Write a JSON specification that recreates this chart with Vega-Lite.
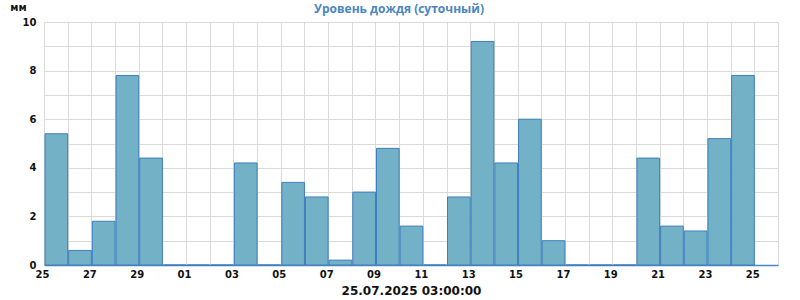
{
  "$schema": "https://vega.github.io/schema/vega-lite/v6.json",
  "width": 734,
  "height": 243,
  "autosize": {"type": "none"},
  "padding": {"left": 44, "top": 22, "right": 22, "bottom": 35},
  "background": "white",
  "config": {"view": {"stroke": null}},
  "title": {
    "text": "Уровень дождя (суточный)",
    "anchor": "middle",
    "font": "Open Sans",
    "fontSize": 12,
    "fontWeight": "bold",
    "color": "#4a86c1",
    "baseline": "middle",
    "offset": -19,
    "dx": -12
  },
  "data": {
    "values": [
      {"date": "2025-06-25", "rain": 5.4},
      {"date": "2025-06-26", "rain": 0.6},
      {"date": "2025-06-27", "rain": 1.8},
      {"date": "2025-06-28", "rain": 7.8},
      {"date": "2025-06-29", "rain": 4.4},
      {"date": "2025-06-30", "rain": 0},
      {"date": "2025-07-01", "rain": 0},
      {"date": "2025-07-02", "rain": 0},
      {"date": "2025-07-03", "rain": 4.2},
      {"date": "2025-07-04", "rain": 0},
      {"date": "2025-07-05", "rain": 3.4},
      {"date": "2025-07-06", "rain": 2.8},
      {"date": "2025-07-07", "rain": 0.2},
      {"date": "2025-07-08", "rain": 3.0},
      {"date": "2025-07-09", "rain": 4.8},
      {"date": "2025-07-10", "rain": 1.6},
      {"date": "2025-07-11", "rain": 0},
      {"date": "2025-07-12", "rain": 2.8},
      {"date": "2025-07-13", "rain": 9.2},
      {"date": "2025-07-14", "rain": 4.2},
      {"date": "2025-07-15", "rain": 6.0},
      {"date": "2025-07-16", "rain": 1.0},
      {"date": "2025-07-17", "rain": 0},
      {"date": "2025-07-18", "rain": 0},
      {"date": "2025-07-19", "rain": 0},
      {"date": "2025-07-20", "rain": 4.4},
      {"date": "2025-07-21", "rain": 1.6},
      {"date": "2025-07-22", "rain": 1.4},
      {"date": "2025-07-23", "rain": 5.2},
      {"date": "2025-07-24", "rain": 7.8}
    ]
  },
  "mark": {"type": "bar", "fill": "#73b2c6", "stroke": "#3d7dbd", "strokeWidth": 1},
  "encoding": {
    "x": {
      "field": "date",
      "type": "temporal",
      "timeUnit": "utcyearmonthdate",
      "scale": {
        "type": "utc",
        "domain": [
          {"year": 2025, "month": 6, "date": 25, "utc": true},
          {"year": 2025, "month": 7, "date": 26, "utc": true}
        ]
      },
      "axis": {
        "title": "25.07.2025 03:00:00",
        "titleFont": "DejaVu Sans",
        "titleFontSize": 12,
        "titleFontWeight": "bold",
        "titleColor": "#111111",
        "titlePadding": 6,
        "tickCount": {"interval": "day", "step": 1},
        "labelExpr": "round((datum.value - utc(2025,5,25)) / 86400000) % 2 == 0 ? utcFormat(datum.value, '%d') : ''",
        "labelFont": "DejaVu Sans",
        "labelFontSize": 10,
        "labelFontWeight": "bold",
        "labelColor": "#111111",
        "labelFlush": false,
        "labelOverlap": false,
        "labelOffset": -2,
        "labelPadding": 4,
        "ticks": false,
        "grid": true,
        "gridColor": "#d9d9d9",
        "gridWidth": 1,
        "domain": true,
        "domainColor": "#4a86c1",
        "domainWidth": 1.5
      }
    },
    "y": {
      "field": "rain",
      "type": "quantitative",
      "scale": {"domain": [0, 10], "nice": false},
      "axis": {
        "title": "мм",
        "titleAngle": 0,
        "titleX": -26,
        "titleY": -15,
        "titleAlign": "center",
        "titleBaseline": "middle",
        "titleFont": "DejaVu Sans",
        "titleFontSize": 10,
        "titleFontWeight": "bold",
        "titleColor": "#111111",
        "values": [0, 1, 2, 3, 4, 5, 6, 7, 8, 9, 10],
        "labelExpr": "datum.value % 2 == 0 ? datum.label : ''",
        "labelFont": "DejaVu Sans",
        "labelFontSize": 10,
        "labelFontWeight": "bold",
        "labelColor": "#111111",
        "labelPadding": 8,
        "ticks": false,
        "domain": false,
        "grid": true,
        "gridColor": "#d9d9d9",
        "gridWidth": 1
      }
    }
  }
}
